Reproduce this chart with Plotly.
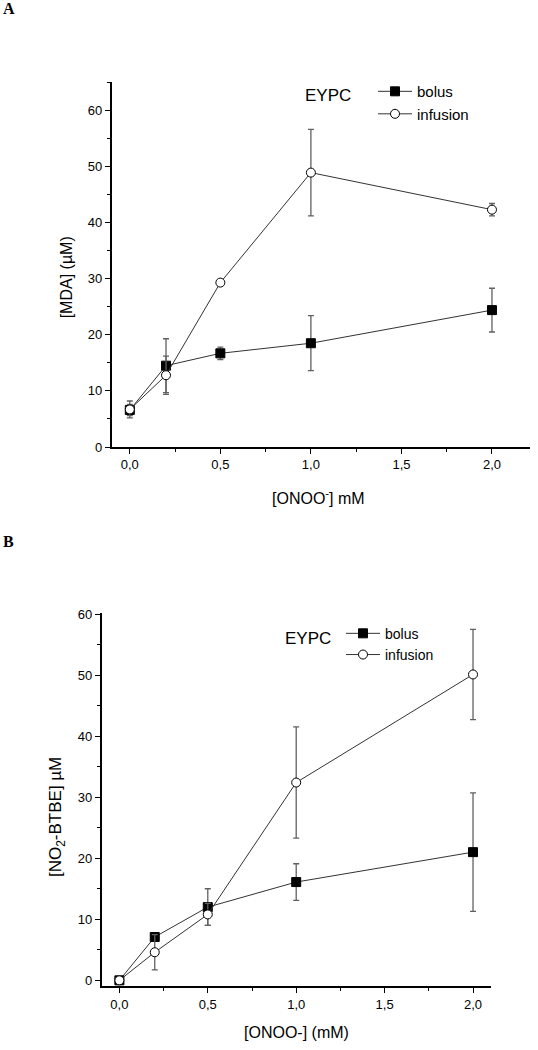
import plotly.graph_objects as go

W, H = 538, 1050
def px(x): return x / W
def py(y): return 1 - y / H

# ---- data panel A ----
xA = [0.0, 0.2, 0.5, 1.0, 2.0]
bolusA = [6.6, 14.5, 16.7, 18.5, 24.4]
bolusA_err = [1.0, 4.8, 1.1, 4.9, 3.9]
infA = [6.7, 12.8, 29.3, 48.9, 42.3]
infA_err = [1.5, 3.4, 0.4, 7.7, 1.1]

# ---- data panel B ----
xB = [0.0, 0.2, 0.5, 1.0, 2.0]
bolusB = [0.0, 7.1, 12.0, 16.1, 21.0]
bolusB_err = [0.2, 0.4, 3.0, 3.0, 9.7]
infB = [0.0, 4.6, 10.8, 32.4, 50.1]
infB_err = [0.2, 2.9, 1.8, 9.1, 7.4]

FONT = "Arial, Liberation Sans, sans-serif"
LINE = "#333333"
ERR = "#606060"

fig = go.Figure()

def add_series(x, y, err, name, symbol, fill, xa, ya, legend):
    fig.add_trace(go.Scatter(
        x=x, y=y, name=name, mode="lines+markers",
        xaxis=xa, yaxis=ya, legend=legend,
        line=dict(color=LINE, width=1),
        marker=dict(symbol=symbol, size=9, color=fill,
                    line=dict(color="black", width=1)),
        error_y=dict(type="data", array=err, visible=True,
                     color=ERR, thickness=1.3, width=3),
    ))

add_series(xA, bolusA, bolusA_err, "bolus", "square", "black", "x", "y", "legend")
add_series(xA, infA, infA_err, "infusion", "circle", "white", "x", "y", "legend")
add_series(xB, bolusB, bolusB_err, "bolus", "square", "black", "x2", "y2", "legend2")
add_series(xB, infB, infB_err, "infusion", "circle", "white", "x2", "y2", "legend2")

axis_common = dict(
    showline=True, linecolor="black", linewidth=1.6, mirror=False,
    ticks="outside", ticklen=5, tickwidth=1.3, tickcolor="black",
    showgrid=False, zeroline=False,
    tickfont=dict(family=FONT, size=13, color="black"),
)
minor_x = dict(tickvals=[0.25, 0.75, 1.25, 1.75], ticks="outside",
               ticklen=3, tickwidth=1.2, tickcolor="black")

fig.update_layout(
    width=W, height=H,
    margin=dict(l=0, r=0, t=0, b=0),
    paper_bgcolor="white", plot_bgcolor="white",
    separators=",.",
    font=dict(family=FONT, color="black"),
    xaxis=dict(domain=[px(111.7), px(530)], range=[-0.1, 2.21], anchor="y",
               tickvals=[0, 0.5, 1.0, 1.5, 2.0], tickformat=".1f",
               minor=minor_x, **axis_common),
    yaxis=dict(domain=[py(447), py(77.3)], range=[0, 65], anchor="x",
               tickvals=[0, 10, 20, 30, 40, 50, 60],
               minor=dict(tickvals=[5, 15, 25, 35, 45, 55, 65], ticks="outside",
                          ticklen=3, tickwidth=1.2, tickcolor="black"),
               **axis_common),
    xaxis2=dict(domain=[px(101.7), px(490.7)], range=[-0.1, 2.1], anchor="y2",
                tickvals=[0, 0.5, 1.0, 1.5, 2.0], tickformat=".1f",
                minor=minor_x, **axis_common),
    yaxis2=dict(domain=[py(993.7), py(615)], range=[-1, 60.2], anchor="x2",
                tickvals=[0, 10, 20, 30, 40, 50, 60],
                minor=dict(tickvals=[5, 15, 25, 35, 45, 55], ticks="outside",
                           ticklen=3, tickwidth=1.2, tickcolor="black"),
                **axis_common),
    legend=dict(x=px(373), y=py(70), xanchor="left", yanchor="top",
                bgcolor="rgba(0,0,0,0)", font=dict(family=FONT, size=15),
                tracegroupgap=0, itemwidth=34),
    legend2=dict(x=px(341), y=py(620), xanchor="left", yanchor="top",
                 bgcolor="rgba(0,0,0,0)", font=dict(family=FONT, size=14),
                 tracegroupgap=0, itemwidth=34),
    showlegend=True,
)

ann = [
    dict(text="<b>A</b>", x=px(1), y=py(3), xanchor="left", yanchor="middle",
         font=dict(family="Liberation Serif, Times New Roman, serif", size=16)),
    dict(text="<b>B</b>", x=px(1), y=py(543), xanchor="left", yanchor="middle",
         font=dict(family="Liberation Serif, Times New Roman, serif", size=16)),
    dict(text="EYPC", x=px(328), y=py(91), xanchor="center", yanchor="middle",
         font=dict(size=17)),
    dict(text="EYPC", x=px(308), y=py(641), xanchor="center", yanchor="middle",
         font=dict(size=17)),
    dict(text="[ONOO<sup>-</sup>] mM", x=px(318), y=py(498), xanchor="center",
         yanchor="middle", font=dict(size=16)),
    dict(text="[ONOO-] (mM)", x=px(296), y=py(1040), xanchor="center",
         yanchor="middle", font=dict(size=16)),
    dict(text="[MDA] (µM)", x=px(66), y=py(275), xanchor="center",
         yanchor="middle", textangle=-90, font=dict(size=16)),
    dict(text="[NO<sub>2</sub>-BTBE] µM", x=px(57), y=py(822), xanchor="center",
         yanchor="middle", textangle=-90, font=dict(size=17)),
]
for a in ann:
    a.update(xref="paper", yref="paper", showarrow=False)
fig.update_layout(annotations=ann)

fig.write_html("out.html", config={"displayModeBar": False},
               post_script="document.body.style.margin='0';")
